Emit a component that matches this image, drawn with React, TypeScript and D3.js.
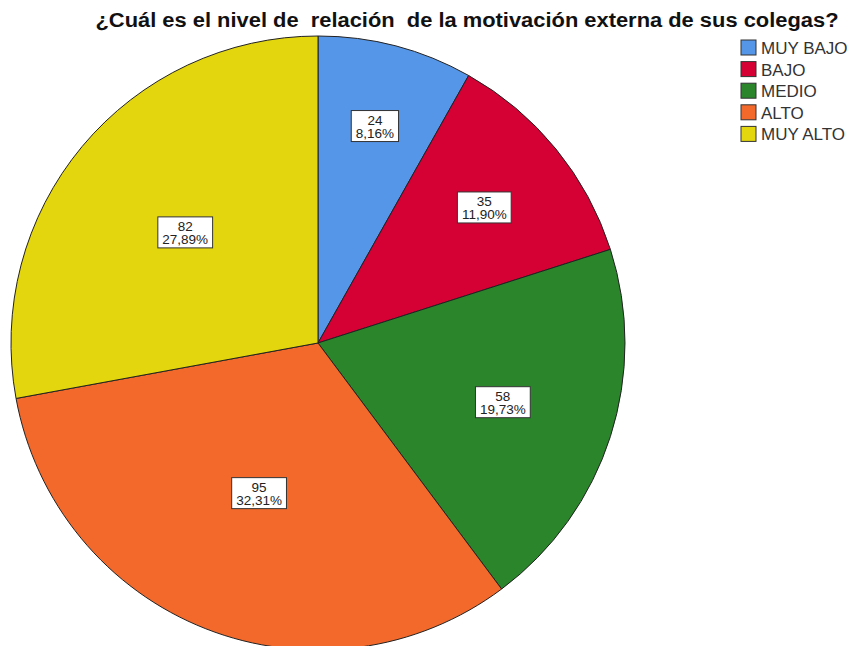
import React from "react";
import * as d3 from "d3";

const categories = ["MUY BAJO", "BAJO", "MEDIO", "ALTO", "MUY ALTO"];
const counts = [24, 35, 58, 95, 82];
const percentLabels = ["8,16%", "11,90%", "19,73%", "32,31%", "27,89%"];
const colors = ["#5696E8", "#D50033", "#2A852B", "#F3692B", "#E3D60F"];
const title = "¿Cuál es el nivel de  relación  de la motivación externa de sus colegas?";

const W = 852;
const H = 646;
const cx = 318;
const cy = 343;
const R = 307;

let _ctx: CanvasRenderingContext2D | null = null;
function measure(text: string, font: string): number {
  if (!_ctx) {
    const c = document.createElement("canvas");
    _ctx = c.getContext("2d");
  }
  if (!_ctx) return text.length * 7;
  _ctx.font = font;
  return _ctx.measureText(text).width;
}

export default function App() {
  const total = d3.sum(counts);
  const pie = d3
    .pie<number>()
    .sort(null)
    .value((d) => d)
    .startAngle(0)
    .endAngle(2 * Math.PI);
  const arcs = pie(counts);
  const arc = d3.arc<d3.PieArcDatum<number>>().innerRadius(0).outerRadius(R);
  const fs = 13.5;
  const labelFont = `${fs}px Arial, 'Liberation Sans', sans-serif`;

  return (
    <svg
      width={W}
      height={H}
      style={{ position: "absolute", left: 0, top: 0, background: "#fff" }}
      fontFamily="Arial, 'Liberation Sans', sans-serif"
    >
      <text
        x={467}
        y={27}
        textAnchor="middle"
        fontSize={20}
        fontWeight="bold"
        fill="#111"
        textLength={743}
        lengthAdjust="spacingAndGlyphs"
        style={{ whiteSpace: "pre" }}
      >
        {title}
      </text>
      <g transform={`translate(${cx},${cy})`}>
        {arcs.map((a, i) => (
          <path key={i} d={arc(a) || ""} fill={colors[i]} stroke="#222" strokeWidth={1} />
        ))}
        {arcs.map((a, i) => {
          const f = counts[i] / total;
          const mid = (a.startAngle + a.endAngle) / 2;
          const lr = R * (0.8 - 0.85 * f);
          const x = Math.sin(mid) * lr;
          const y = -Math.cos(mid) * lr;
          const t1 = String(counts[i]);
          const t2 = percentLabels[i];
          const w = Math.max(measure(t1, labelFont), measure(t2, labelFont)) + 9;
          const h = 31;
          return (
            <g key={"l" + i} transform={`translate(${x},${y})`}>
              <rect x={-w / 2} y={-h / 2} width={w} height={h} fill="#fff" stroke="#333" strokeWidth={1} />
              <text x={0} y={-1.5} textAnchor="middle" fontSize={fs} fill="#222">
                {t1}
              </text>
              <text x={0} y={12} textAnchor="middle" fontSize={fs} fill="#222">
                {t2}
              </text>
            </g>
          );
        })}
      </g>
      <g>
        {categories.map((c, i) => (
          <g key={c} transform={`translate(741,${40 + i * 21.6})`}>
            <rect x={0} y={0} width={15} height={15} fill={colors[i]} stroke="#333" strokeWidth={1} />
            <text x={20} y={14} fontSize={17} fill="#333">
              {c}
            </text>
          </g>
        ))}
      </g>
    </svg>
  );
}
